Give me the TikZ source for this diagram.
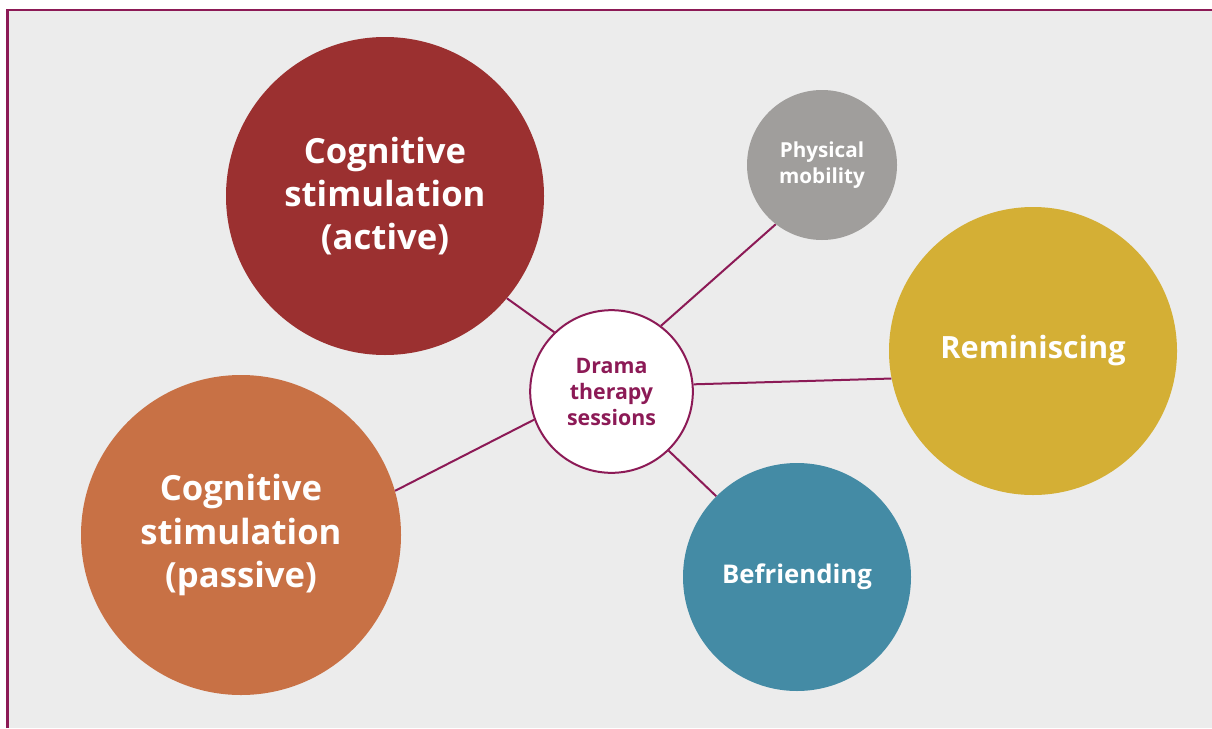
\documentclass[tikz,border=0pt]{standalone}
\usepackage{fontspec}
\setmainfont{Open Sans}

\definecolor{weinrot}{HTML}{8C1A56}
\definecolor{hgrund}{HTML}{ECECEC}
\definecolor{rot}{HTML}{9B3030}
\definecolor{orange}{HTML}{C87145}
\definecolor{grau}{HTML}{A09E9C}
\definecolor{gelb}{HTML}{D4AF35}
\definecolor{petrol}{HTML}{448BA5}

\begin{document}
\begin{tikzpicture}[
    x=0.75pt, y=-0.75pt,
    kreis/.style={
      circle,
      inner sep=0pt,
      text=white,
      align=center},
    gross/.style={font=\bfseries\fontsize{26}{32.5}\selectfont},
    verbindung/.style={draw=weinrot, line width=1.5pt}
    ]

  \useasboundingbox (0,0) rectangle (1212,728);
  \fill[hgrund] (8,11) rectangle (1212,728);
  \draw[weinrot, line width=1.6pt] (7.5,728) -- (7.5,10) -- (1212,10);

  \node at (385,196) (aktiv) [kreis, gross, fill=rot, minimum size=238.5pt]
    {Cognitive\\stimulation\\(active)};

  \node at (241,535) (passiv) [kreis, gross, fill=orange, minimum size=240pt]
    {Cognitive\\stimulation\\(passive)};

  \node at (822,165) (mobil) [kreis, fill=grau, minimum size=112.5pt,
    font=\bfseries\fontsize{15.5}{20}\selectfont] {Physical\\mobility};

  \node at (1033,351) (erinnern) [kreis, fill=gelb, minimum size=216pt,
    font=\bfseries\fontsize{23}{30}\selectfont] {Reminiscing};

  \node at (797,577) (freund) [kreis, fill=petrol, minimum size=171pt,
    font=\bfseries\fontsize{19.3}{24}\selectfont] {Befriending};

  \node at (611.5,391.5) (drama) [kreis, fill=white, draw=weinrot, line width=1.5pt,
    text=weinrot, minimum size=122pt,
    font=\bfseries\fontsize{16}{19.5}\selectfont] {Drama\\therapy\\sessions};

  \path [verbindung] (drama.134) edge (aktiv.-40);
  \path [verbindung] (drama.53) edge (mobil.232);
  \path [verbindung] (drama.5) edge (erinnern.191);
  \path [verbindung] (drama.-46) edge (freund.135);
  \path [verbindung] (drama.200) edge (passiv.16);

\end{tikzpicture}
\end{document}
